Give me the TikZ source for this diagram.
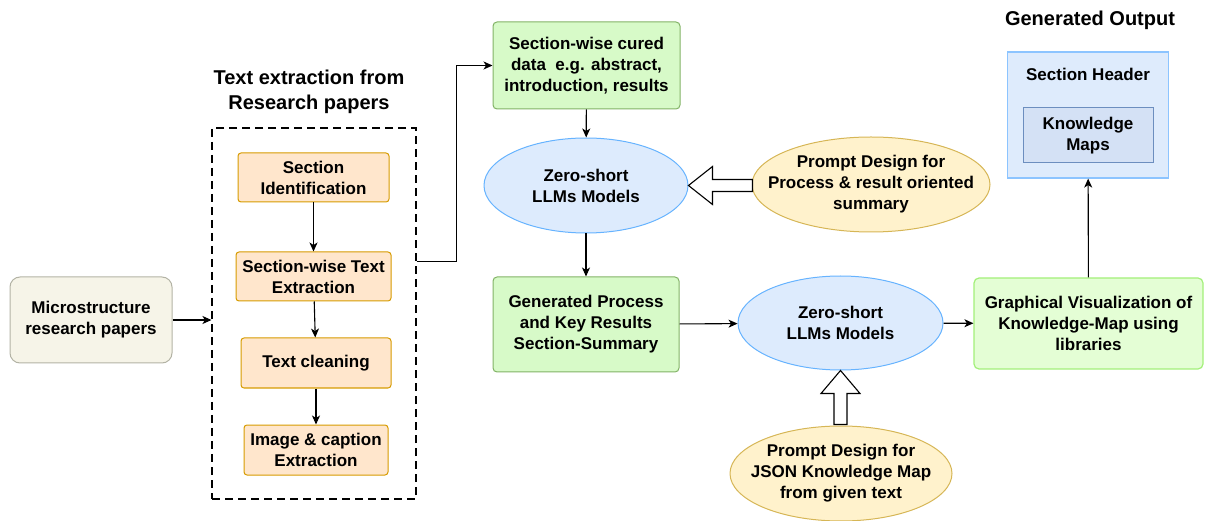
\documentclass[tikz,border=0pt]{standalone}
\usepackage{fontspec}
\setmainfont{Liberation Sans}
\usepackage{xcolor}
\usepackage{tikz}
\usetikzlibrary{shapes.geometric,arrows.meta,calc}

\definecolor{orfill}{HTML}{FFE6CC}
\definecolor{ordraw}{HTML}{D79B00}
\definecolor{grfill}{HTML}{D7FAC8}
\definecolor{grdraw}{HTML}{82B366}
\definecolor{lgfill}{HTML}{E4FED5}
\definecolor{lgdraw}{HTML}{A3F07A}
\definecolor{blfill}{HTML}{DDEBFD}
\definecolor{bldraw}{HTML}{66B3FF}
\definecolor{yefill}{HTML}{FFF2CC}
\definecolor{yedraw}{HTML}{D6B656}
\definecolor{pafill}{HTML}{F6F4E8}
\definecolor{padraw}{HTML}{B3B3A5}
\definecolor{oufill}{HTML}{DEEBFC}
\definecolor{oudraw}{HTML}{8CC4FF}
\definecolor{infill}{HTML}{D4E1F5}
\definecolor{indraw}{HTML}{6C8EBF}

\begin{document}
\begin{tikzpicture}[x=1pt,y=-1pt,
	every node/.append style={font=\fontsize{17}{21}\selectfont\bfseries, align=center, inner sep=1pt},
	title/.style={font=\fontsize{20}{25}\selectfont\bfseries},
	stage/.style={draw=ordraw, fill=orfill, rounded corners=3pt, line width=1pt},
	cured/.style={draw=grdraw, fill=grfill, rounded corners=4pt, line width=1pt},
	llm/.style={ellipse, draw=bldraw, fill=blfill, line width=1pt},
	prompt/.style={ellipse, draw=yedraw, fill=yefill, line width=1pt},
	flow/.style={-{Stealth[length=9pt,width=8pt,inset=2.5pt]}, line width=1.1pt},
	hollow/.style={draw, fill=white, line width=1.1pt, line join=miter}
]
	\useasboundingbox (0,0) rectangle (1208,521);

	%left part
	\node[draw=padraw, fill=pafill, rounded corners=10pt, line width=1pt,
		minimum width=162pt, minimum height=86pt] (paper) at (91,320) {Microstructure\\research papers};
	\node[draw, dash pattern=on 8pt off 5pt, line width=1.1pt,
		minimum width=204pt, minimum height=371pt] (ext) at (314,313.5) {};
	\node[title] (exttitle) at (309,92) {Text extraction from\\Research papers};

	\node[stage, minimum width=151pt, minimum height=49pt] (sid) at (313.5,177.5) {Section\\Identification};
	\node[stage, minimum width=155pt, minimum height=49pt] (swte) at (313.5,276.5) {Section-wise Text\\Extraction};
	\node[stage, minimum width=150pt, minimum height=50pt] (clean) at (316,363) {Text cleaning};
	\node[stage, minimum width=144pt, minimum height=50pt] (imcap) at (316,450) {Image \& caption\\Extraction};

	\foreach \a/\b in {sid/swte, swte/clean, clean/imcap}
		\draw[flow] (\a) -- (\b);
	\draw[flow] (paper.east) -- (paper.east -| ext.west);

	%middle part
	\node[cured, minimum width=187pt, minimum height=87pt] (data) at (586.5,65.5) {Section-wise cured\\data\ \ e.g. abstract,\\introduction, results};
	\node[llm, minimum width=204pt, minimum height=95pt] (llma) at (586,185.5) {};
	\node (llmatext) at (llma) {Zero-short\\LLMs Models};
	\node[prompt, minimum width=238pt, minimum height=95pt] (prompta) at (871,184.5) {};
	\node (promptatext) at (prompta) {Prompt Design for\\Process \& result oriented\\summary};
	\node[cured, minimum width=186pt, minimum height=95pt] (summ) at (586,324.5) {Generated Process\\and Key Results\\Section-Summary};
	\node[llm, minimum width=205pt, minimum height=94pt] (llmb) at (840.5,323) {};
	\node (llmbtext) at (llmb) {Zero-short\\LLMs Models};
	\node[prompt, minimum width=222pt, minimum height=95pt] (promptb) at (841,473.5) {};
	\node (promptbtext) at (promptb) {Prompt Design for\\JSON Knowledge Map\\from given text};

	\draw[flow] ($(ext.north east)!0.36!(ext.south east)$) -- ++(40,0) |- (data.west);
	\draw[flow] (data) -- (llma);
	\draw[flow] (llma) -- (summ);
	\draw[flow] (summ) -- (llmb);

	\draw[hollow] (llma.east) -- ++(24,-19) -- ++(0,13) -- ++(40,0) -- ++(0,12) -- ++(-40,0) -- ++(0,13) -- cycle;
	\draw[hollow] (llmb.south) -- ++(-19.5,23) -- ++(13,0) -- ++(0,31) -- ++(13,0) -- ++(0,-31) -- ++(13,0) -- cycle;

	%right part
	\node[draw=lgdraw, fill=lgfill, rounded corners=5pt, line width=1.2pt,
		minimum width=229pt, minimum height=91pt] (graph) at (1088.5,323.5) {Graphical Visualization of\\Knowledge-Map using\\libraries};
	\node[draw=oudraw, fill=oufill, line width=1.2pt,
		minimum width=161pt, minimum height=126pt] (out) at (1088,115) {};
	\node (head) at (1088,74) {Section Header};
	\node[draw=indraw, fill=infill, line width=1pt,
		minimum width=130pt, minimum height=55pt] (maps) at (1088,135.5) {Knowledge\\Maps};
	\node[title] (outtitle) at (1090,20) {Generated Output};

	\draw[flow] (llmb) -- (graph);
	\draw[flow] (graph) -- (out);

\end{tikzpicture}
\end{document}
